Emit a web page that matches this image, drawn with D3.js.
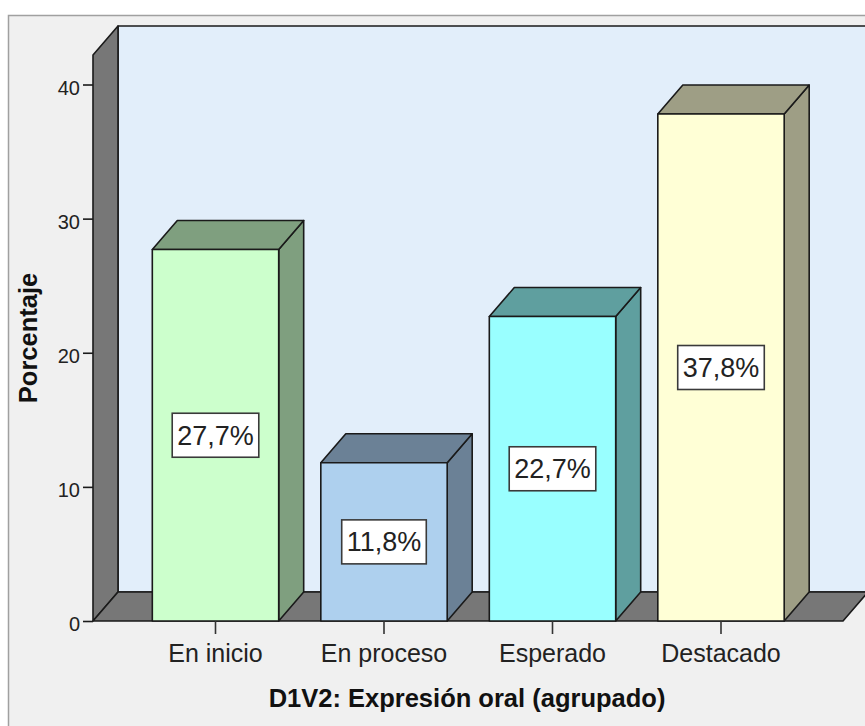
<!DOCTYPE html>
<html>
<head>
<meta charset="utf-8">
<script src="https://cdn.jsdelivr.net/npm/d3@7"></script>
<style>
  html, body { margin: 0; padding: 0; background: #ffffff; }
  svg { display: block; }
</style>
</head>
<body>
<svg id="chart" width="865" height="726"></svg>
<script>
  var categories = ["En inicio", "En proceso", "Esperado", "Destacado"];
  var values = [27.7, 11.8, 22.7, 37.8];
  var valueLabels = ["27,7%", "11,8%", "22,7%", "37,8%"];
  var yTicks = [0, 10, 20, 30, 40];

  var frontColors = ["#ccffcc", "#aed0ee", "#99ffff", "#ffffd6"];
  var sideColors = ["#7f9f7f", "#6b8196", "#5f9f9f", "#9e9e85"];

  var svg = d3.select("#chart");
  var font = "'Liberation Sans', Arial, sans-serif";
  var line = "#1a1a1a";

  // depth of the 3d effect
  var dx = 25, dy = -29;

  var y = d3.scaleLinear().domain([0, 42.2]).range([621, 55]);
  var x = d3.scaleBand()
    .domain(categories)
    .range([131.25, 805.25])
    .paddingInner(0.25)
    .paddingOuter(0.125);

  var front = d3.scaleOrdinal().domain(categories).range(frontColors);
  var side = d3.scaleOrdinal().domain(categories).range(sideColors);

  var floorLeft = 93, floorRight = 843;

  // outer frame
  svg.append("rect")
    .attr("x", 8.5).attr("y", 15.5)
    .attr("width", 880).attr("height", 740)
    .attr("fill", "#f0f0f0")
    .attr("stroke", "#a0a0a0")
    .attr("stroke-width", 1.5);

  function poly(pts) {
    return "M" + pts.map(function (p) { return p.join(","); }).join("L") + "Z";
  }

  var walls = svg.append("g")
    .attr("stroke", line)
    .attr("stroke-width", 1.6)
    .attr("stroke-linejoin", "round");

  // back wall
  walls.append("path")
    .attr("d", poly([[floorLeft + dx, y.range()[1] + dy], [floorRight + dx + 30, y.range()[1] + dy],
      [floorRight + dx + 30, y(0) + dy], [floorLeft + dx, y(0) + dy]]))
    .attr("fill", "#e2eefa");

  // left wall
  walls.append("path")
    .attr("d", poly([[floorLeft, y.range()[1]], [floorLeft + dx, y.range()[1] + dy],
      [floorLeft + dx, y(0) + dy], [floorLeft, y(0)]]))
    .attr("fill", "#777777");

  // floor
  walls.append("path")
    .attr("d", poly([[floorLeft, y(0)], [floorLeft + dx, y(0) + dy],
      [floorRight + dx, y(0) + dy], [floorRight, y(0)]]))
    .attr("fill", "#777777");

  // bars
  var bars = svg.append("g")
    .attr("stroke", line)
    .attr("stroke-width", 1.6)
    .attr("stroke-linejoin", "round")
    .selectAll("g")
    .data(categories)
    .enter().append("g");

  bars.append("path")
    .attr("fill", function (d) { return side(d); })
    .attr("d", function (d, i) {
      var x1 = x(d) + x.bandwidth(), yt = y(values[i]), yb = y(0);
      return poly([[x1, yb], [x1, yt], [x1 + dx, yt + dy], [x1 + dx, yb + dy]]);
    });

  bars.append("path")
    .attr("fill", function (d) { return side(d); })
    .attr("d", function (d, i) {
      var x0 = x(d), x1 = x0 + x.bandwidth(), yt = y(values[i]);
      return poly([[x0, yt], [x0 + dx, yt + dy], [x1 + dx, yt + dy], [x1, yt]]);
    });

  bars.append("rect")
    .attr("fill", function (d) { return front(d); })
    .attr("x", function (d) { return x(d); })
    .attr("y", function (d, i) { return y(values[i]); })
    .attr("width", x.bandwidth())
    .attr("height", function (d, i) { return y(0) - y(values[i]); });

  // value labels
  var labels = svg.append("g").selectAll("g")
    .data(categories)
    .enter().append("g")
    .attr("transform", function (d, i) {
      return "translate(" + (x(d) + x.bandwidth() / 2) + "," + ((y(values[i]) + y(0)) / 2) + ")";
    });

  var boxes = labels.append("rect")
    .attr("fill", "#ffffff")
    .attr("stroke", "#3a3a3a")
    .attr("stroke-width", 1.6);

  var texts = labels.append("text")
    .attr("text-anchor", "middle")
    .attr("dy", "0.35em")
    .attr("font-family", font)
    .attr("font-size", 27)
    .attr("fill", "#222")
    .text(function (d, i) { return valueLabels[i]; });

  texts.each(function (d, i) {
    var w = this.getComputedTextLength() + 10;
    d3.select(boxes.nodes()[i])
      .attr("x", -w / 2).attr("y", -22)
      .attr("width", w).attr("height", 44);
  });

  // y axis
  var yAxis = svg.append("g")
    .attr("transform", "translate(" + floorLeft + ",0)")
    .call(d3.axisLeft(y).tickValues(yTicks).tickSize(10).tickPadding(3));
  yAxis.select(".domain").remove();
  yAxis.selectAll(".tick line").attr("stroke", line).attr("stroke-width", 1.6);
  yAxis.selectAll(".tick text")
    .attr("font-family", font)
    .attr("font-size", 20)
    .attr("fill", "#222")
    .attr("dy", "0.48em");

  // x axis
  var xAxis = svg.append("g")
    .attr("transform", "translate(0," + y(0) + ")")
    .call(d3.axisBottom(x).tickSize(13).tickPadding(10));
  xAxis.select(".domain").remove();
  xAxis.selectAll(".tick line").attr("stroke", "#333").attr("stroke-width", 1.6);
  xAxis.selectAll(".tick text")
    .attr("font-family", font)
    .attr("font-size", 25)
    .attr("fill", "#222");

  // axis titles
  svg.append("text")
    .attr("x", (floorLeft + floorRight) / 2 - 1)
    .attr("y", 707)
    .attr("text-anchor", "middle")
    .attr("font-family", font)
    .attr("font-weight", "bold")
    .attr("font-size", 25.5)
    .attr("fill", "#111")
    .text("D1V2: Expresión oral (agrupado)");

  svg.append("text")
    .attr("transform", "translate(37,338) rotate(-90)")
    .attr("text-anchor", "middle")
    .attr("font-family", font)
    .attr("font-weight", "bold")
    .attr("font-size", 25.5)
    .attr("fill", "#111")
    .text("Porcentaje");
</script>
</body>
</html>
